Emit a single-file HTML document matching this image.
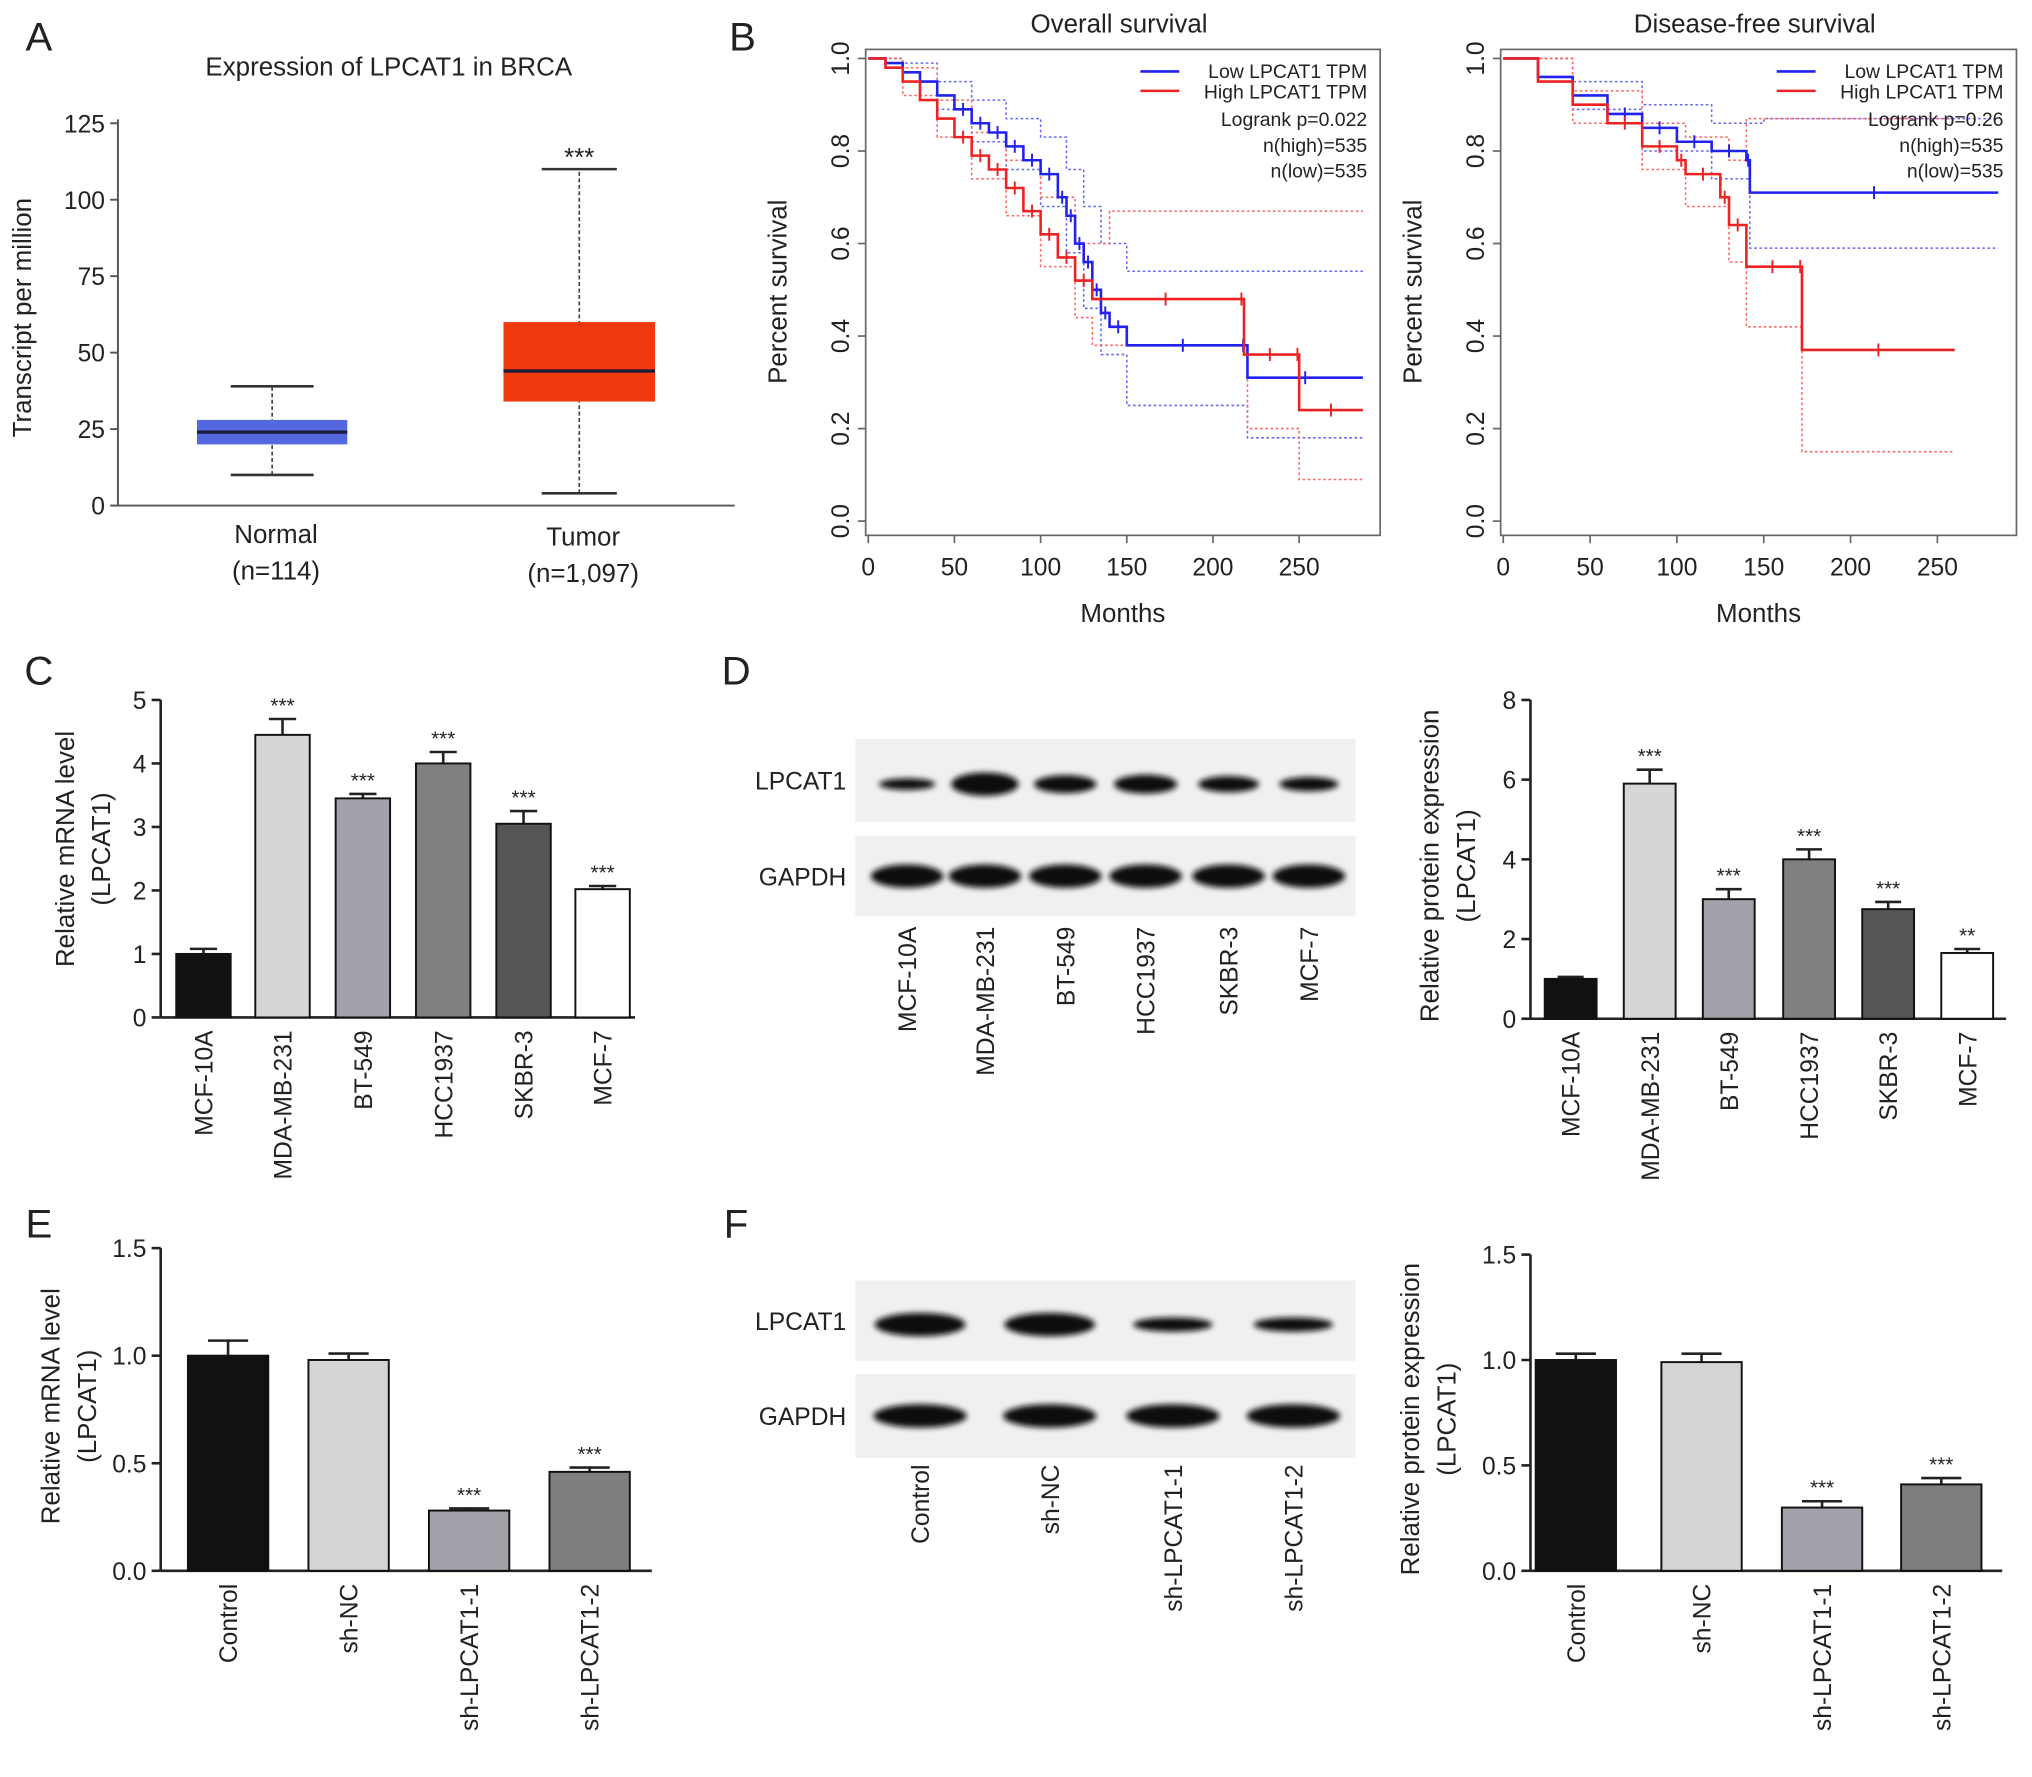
<!DOCTYPE html>
<html><head><meta charset="utf-8"><style>
html,body{margin:0;padding:0;background:#fff}
svg{display:block;font-family:"Liberation Sans",Arial,sans-serif}
</style></head><body>
<svg id="fig" width="2032" height="1777" viewBox="0 0 1568 1371" xmlns="http://www.w3.org/2000/svg">
<defs>
<filter id="blur" x="-20%" y="-50%" width="140%" height="200%"><feGaussianBlur stdDeviation="2.2"/></filter>
</defs>
</svg>
<script>
// ---- Panel A data ----
const boxCats = ["Normal","Tumor"];
const boxN = ["(n=114)","(n=1,097)"];
const boxQ1 = [20,34], boxMed = [24,44], boxQ3 = [28,60], boxLo = [10,4], boxHi = [39,110];
const boxTicks = [0,25,50,75,100,125];
// ---- Panel B data ----
const kmTicksX = [0,50,100,150,200,250];
const kmTicksY = [0.0,0.2,0.4,0.6,0.8,1.0];
const osLowT = [0,10,20,30,40,50,60,70,80,90,100,110,115,120,125,130,135,140,150,215,220,287];
const osLowS = [1,0.99,0.97,0.95,0.92,0.89,0.86,0.84,0.81,0.78,0.75,0.70,0.66,0.60,0.56,0.50,0.45,0.42,0.38,0.38,0.31,0.31];
const osHighT = [0,10,20,30,40,50,60,70,80,90,100,110,120,130,215,218,248,250,287];
const osHighS = [1,0.98,0.95,0.91,0.87,0.83,0.79,0.76,0.72,0.67,0.62,0.57,0.52,0.48,0.48,0.36,0.36,0.24,0.24];
const osLowUpT = [0,20,40,60,80,100,115,125,135,150,287];
const osLowUpS = [1,0.99,0.95,0.91,0.87,0.83,0.76,0.68,0.60,0.54,0.54];
const osLowLoT = [0,20,40,60,80,100,115,125,135,150,215,220,287];
const osLowLoS = [1,0.95,0.89,0.82,0.76,0.68,0.58,0.46,0.36,0.25,0.25,0.18,0.18];
const osHighUpT = [0,20,40,60,80,100,120,140,215,220,287];
const osHighUpS = [1,0.98,0.91,0.84,0.78,0.70,0.60,0.67,0.67,0.67,0.67];
const osHighLoT = [0,20,40,60,80,100,120,130,215,220,250,287];
const osHighLoS = [1,0.92,0.83,0.74,0.66,0.55,0.44,0.38,0.38,0.20,0.09,0.09];
const dfsLowT = [0,20,40,60,80,100,120,140,142,285];
const dfsLowS = [1,0.96,0.92,0.88,0.85,0.82,0.80,0.78,0.71,0.71];
const dfsHighT = [0,20,40,60,80,100,105,125,130,140,170,172,260];
const dfsHighS = [1,0.95,0.90,0.86,0.81,0.78,0.75,0.70,0.64,0.55,0.55,0.37,0.37];
const dfsLowUpT = [0,40,80,120,150,285];
const dfsLowUpS = [1,0.95,0.90,0.86,0.87,0.87];
const dfsLowLoT = [0,40,80,120,142,285];
const dfsLowLoS = [1,0.89,0.80,0.74,0.59,0.59];
const dfsHighUpT = [0,40,80,105,130,140,170,260];
const dfsHighUpS = [1,0.93,0.86,0.83,0.78,0.87,0.87,0.87];
const dfsHighLoT = [0,40,80,105,130,140,172,260];
const dfsHighLoS = [1,0.86,0.76,0.68,0.56,0.42,0.15,0.15];
// ---- Panel C ----
const cCats = ["MCF-10A","MDA-MB-231","BT-549","HCC1937","SKBR-3","MCF-7"];
const cVals = [1.0,4.45,3.45,4.0,3.05,2.02];
const cErr = [0.08,0.25,0.07,0.18,0.2,0.05];
const cSig = ["","***","***","***","***","***"];
const cTicks = [0,1,2,3,4,5];
// ---- Panel D ----
const dVals = [1.0,5.9,3.0,4.0,2.75,1.65];
const dErr = [0.05,0.35,0.25,0.25,0.18,0.1];
const dSig = ["","***","***","***","***","**"];
const dTicks = [0,2,4,6,8];
const dBand = [0.35,1.0,0.7,0.75,0.6,0.5];
// ---- Panel E ----
const eCats = ["Control","sh-NC","sh-LPCAT1-1","sh-LPCAT1-2"];
const eVals = [1.0,0.98,0.28,0.46];
const eErr = [0.07,0.03,0.01,0.02];
const eSig = ["","","***","***"];
const eTicks = [0.0,0.5,1.0,1.5];
// ---- Panel F ----
const fVals = [1.0,0.99,0.30,0.41];
const fErr = [0.03,0.04,0.03,0.03];
const fSig = ["","","***","***"];
const fBand = [1.0,1.0,0.5,0.5];

const svg = document.getElementById('fig');
const NS = 'http://www.w3.org/2000/svg';
function mk(tag, attrs, parent, txt){
  const e = document.createElementNS(NS, tag);
  for (const k in attrs) e.setAttribute(k, attrs[k]);
  if (txt !== undefined) e.textContent = txt;
  (parent||svg).appendChild(e); return e;
}
function grp(name){
  const g = mk('g',{});
  
  
  return g;
}
function txt(g,x,y,s,size,anchor,rot,name){
  const t = mk('text',{x:x,y:y,'font-size':size,'text-anchor':anchor||'middle',fill:'#222'},g,s);
  if (rot) t.setAttribute('transform','rotate('+rot+' '+x+' '+y+')');
  
  
  return t;
}
function line(g,x1,y1,x2,y2,st,w,dash){
  const l = mk('line',{x1:x1,y1:y1,x2:x2,y2:y2,stroke:st||'#333','stroke-width':w||1.5},g);
  if (dash) l.setAttribute('stroke-dasharray',dash);
  return l;
}

// Panel letters
[["A",30,28],["B",573,28],["C",30,517],["D",568,517],["E",30,944],["F",568,944]].forEach(p=>{
  const g = grp('panel-letter-'+p[0].toLowerCase());
  txt(g,p[1],p[2]+11,p[0],31,'middle',0,'panel-label');
});

// ---------- Panel A ----------
(function(){
  const g = grp('panel-a-boxplot');
  const y0=390, k=2.36, ax=91;
  const Y = v => y0 - v*k;
  const cx = [210,447], bw=[116,117], cw=[64,58];
  const cols = ['#5468e0','#ee3a0e'];
  txt(g,300,58,'Expression of LPCAT1 in BRCA',20,'middle',0,'chart-title');
  line(g,ax,Y(125)-3,ax,y0,'#555',1.5);
  line(g,ax,y0,567,y0,'#555',1.5);
  boxTicks.forEach(v=>{ line(g,ax-6,Y(v),ax,Y(v),'#555',1.5); txt(g,ax-10,Y(v)+7,String(v),19,'end',0,'y-tick-label'); });
  txt(g,24,245,'Transcript per million',20,'middle',-90,'y-axis-title');
  boxCats.forEach((c,i)=>{
    line(g,cx[i],Y(boxLo[i]),cx[i],Y(boxHi[i]),'#444',1.3,'3,2');
    line(g,cx[i]-cw[i]/2,Y(boxHi[i]),cx[i]+cw[i]/2,Y(boxHi[i]),'#333',2);
    line(g,cx[i]-cw[i]/2,Y(boxLo[i]),cx[i]+cw[i]/2,Y(boxLo[i]),'#333',2);
    const r = mk('rect',{x:cx[i]-bw[i]/2,y:Y(boxQ3[i]),width:bw[i],height:Y(boxQ1[i])-Y(boxQ3[i]),fill:cols[i]},g);
    
    
    line(g,cx[i]-bw[i]/2,Y(boxMed[i]),cx[i]+bw[i]/2,Y(boxMed[i]),'#1a1a3a',2.5);
    txt(g,cx[i]+3,Y(0)+29-(i?-2:0),c,20,'middle',0,'x-tick-label');
    txt(g,cx[i]+3,Y(0)+57-(i?-2:0),boxN[i],20,'middle',0,'x-tick-sublabel');
  });
  txt(g,447,128,'***',20,'middle',0,'significance-marker');
})();

// ---------- Panel B ----------
function kmPanel(name,x0,x1,xs,title,curves,legend){
  const g = grp(name);
  const yTop=38,yBot=413, xZero=x0+2;
  const X = t => xZero + t*xs;
  const Y = s => 402 - s*357;
  mk('rect',{x:x0,y:yTop,width:x1-x0,height:yBot-yTop,fill:'none',stroke:'#666','stroke-width':1.3},g);
  txt(g,(x0+x1)/2-3,25,title,20,'middle',0,'chart-title');
  kmTicksX.forEach(t=>{ line(g,X(t),yBot,X(t),yBot+6,'#666',1.3); txt(g,X(t),yBot+31,String(t),19,'middle',0,'x-tick-label'); });
  kmTicksY.forEach(s=>{ line(g,x0-6,Y(s),x0,Y(s),'#666',1.3); txt(g,x0-13,Y(s),s.toFixed(1),19,'middle',-90,'y-tick-label'); });
  txt(g,(x0+x1)/2,480,'Months',20,'middle',0,'x-axis-title');
  txt(g,x0-61,225,'Percent survival',20,'middle',-90,'y-axis-title');
  curves.forEach(c=>{
    let d='M'+X(c.t[0])+','+Y(c.s[0]);
    for(let i=1;i<c.t.length;i++){ d+='H'+X(c.t[i])+'V'+Y(c.s[i]); }
    const p = mk('path',{d:d,fill:'none',stroke:c.col,'stroke-width':c.dash?1.2:2},g);
    if(c.dash) p.setAttribute('stroke-dasharray','2,2');
    
    
    if(!c.dash){
      for(let i=2;i<c.t.length;i+=1){
        const tx=X((c.t[i-1]+c.t[i])/2), ty=Y(c.s[i-1]);
        if(c.t[i-1]>40) line(g,tx,ty-5,tx,ty+5,c.col,1.5);
      }
    }
  });
  const lx = x1-10;
  line(g,lx-175,55,lx-145,55,'#2222ee',2); txt(g,lx,60,'Low LPCAT1 TPM',15,'end',0,'legend-entry-low');
  line(g,lx-175,70,lx-145,70,'#ee2222',2); txt(g,lx,76,'High LPCAT1 TPM',15,'end',0,'legend-entry-high');
  txt(g,lx,97,legend,15,'end',0,'logrank-p');
  txt(g,lx,117,'n(high)=535',15,'end',0,'n-high');
  txt(g,lx,137,'n(low)=535',15,'end',0,'n-low');
}
kmPanel('panel-b-overall-survival',668,1065,1.33,'Overall survival',[
  {t:osLowUpT,s:osLowUpS,col:'#6666ff',dash:1,name:'low-ci-upper'},
  {t:osLowLoT,s:osLowLoS,col:'#6666ff',dash:1,name:'low-ci-lower'},
  {t:osHighUpT,s:osHighUpS,col:'#ff6666',dash:1,name:'high-ci-upper'},
  {t:osHighLoT,s:osHighLoS,col:'#ff6666',dash:1,name:'high-ci-lower'},
  {t:osLowT,s:osLowS,col:'#2222ee',name:'low-tpm-curve'},
  {t:osHighT,s:osHighS,col:'#ee2222',name:'high-tpm-curve'}
],'Logrank p=0.022');
kmPanel('panel-b-disease-free-survival',1158,1556,1.34,'Disease-free survival',[
  {t:dfsLowUpT,s:dfsLowUpS,col:'#6666ff',dash:1,name:'low-ci-upper'},
  {t:dfsLowLoT,s:dfsLowLoS,col:'#6666ff',dash:1,name:'low-ci-lower'},
  {t:dfsHighUpT,s:dfsHighUpS,col:'#ff6666',dash:1,name:'high-ci-upper'},
  {t:dfsHighLoT,s:dfsHighLoS,col:'#ff6666',dash:1,name:'high-ci-lower'},
  {t:dfsLowT,s:dfsLowS,col:'#2222ee',name:'low-tpm-curve'},
  {t:dfsHighT,s:dfsHighS,col:'#ee2222',name:'high-tpm-curve'}
],'Logrank p=0.26');

// ---------- Bar charts ----------
function barChart(name,ax,yTop,yBot,xEnd,maxV,ticks,fmt,cx,bw,vals,err,sig,cats,cols,lab1,lab2,labX,labY){
  const g = grp(name);
  const k=(yBot-yTop)/maxV;
  const Y=v=>yBot-v*k;
  line(g,ax,yTop,ax,yBot,'#222',2);
  line(g,ax,yBot,xEnd,yBot,'#222',2);
  ticks.forEach(v=>{ line(g,ax-7,Y(v),ax,Y(v),'#222',2); txt(g,ax-11,Y(v)+7,fmt(v),19,'end',0,'y-tick-label'); });
  vals.forEach((v,i)=>{
    line(g,cx[i],Y(v),cx[i],Y(v+err[i]),'#222',2);
    line(g,cx[i]-bw/4,Y(v+err[i]),cx[i]+bw/4,Y(v+err[i]),'#222',2);
    const r = mk('rect',{x:cx[i]-bw/2,y:Y(v),width:bw,height:yBot-Y(v),fill:cols[i],stroke:'#111','stroke-width':1.5},g);
    
    
    if(sig[i]) txt(g,cx[i],Y(v+err[i])-5,sig[i],16,'middle',0,'significance-marker');
    txt(g,cx[i]+7,yBot+10,cats[i],19,'end',-90,'x-tick-label');
  });
  txt(g,labX,labY,lab1,20,'middle',-90,'y-axis-title');
  txt(g,labX+28,labY,lab2,20,'middle',-90,'y-axis-subtitle');
}
const six = ['#111','#d6d6d6','#a2a2aa','#808080','#555','#fff'];
const four = ['#111','#d4d4d4','#a2a2aa','#7e7e7e'];
barChart('panel-c-mrna-bars',124,540,785,490,5,cTicks,v=>String(v),[157,218,280,342,404,465],42,cVals,cErr,cSig,cCats,six,'Relative mRNA level','(LPCAT1)',57,655);
barChart('panel-d-protein-bars',1181,540,786,1548,8,dTicks,v=>String(v),[1212,1273,1334,1396,1457,1518],40,dVals,dErr,dSig,cCats,six,'Relative protein expression','(LPCAT1)',1110,668);
barChart('panel-e-mrna-bars',124,963,1212,503,1.5,eTicks,v=>v.toFixed(1),[176,269,362,455],62,eVals,eErr,eSig,eCats,four,'Relative mRNA level','(LPCAT1)',46,1085);
barChart('panel-f-protein-bars',1181,968,1212,1545,1.5,eTicks,v=>v.toFixed(1),[1216,1313,1406,1498],62,fVals,fErr,fSig,eCats,four,'Relative protein expression','(LPCAT1)',1095,1095);

// ---------- Western blots ----------
function blot(name,x0,x1,rows,lanes,band,cats,labY){
  const g = grp(name);
  rows.forEach((r,ri)=>{
    mk('rect',{x:x0,y:r.y,width:x1-x0,height:r.h,fill:'#f0f0f0'},g);
    txt(g,x0-7,r.y+r.h/2+7,r.lab,19,'end',0,'blot-row-label');
    lanes.forEach((lx,i)=>{
      const s = ri===0 ? band[i] : 1;
      const e = mk('ellipse',{cx:lx,cy:r.y+r.h/2+(ri===0?3:0),rx:r.bw/2*(ri===0?(0.75+0.25*s):1),ry:(ri===0?(2+7*s):9),fill:'#111',filter:'url(#blur)'},g);
      
      
    });
  });
  lanes.forEach((lx,i)=>txt(g,lx+7,labY,cats[i],19,'end',-90,'lane-label'));
}
blot('panel-d-western-blot',660,1046,[{y:570,h:64,lab:'LPCAT1',bw:52},{y:645,h:62,lab:'GAPDH',bw:56}],[700,760,822,884,948,1010],dBand,cCats,715);
blot('panel-f-western-blot',660,1046,[{y:988,h:62,lab:'LPCAT1',bw:70},{y:1060,h:65,lab:'GAPDH',bw:72}],[710,810,905,998],fBand,eCats,1130);
</script>
</body></html>
